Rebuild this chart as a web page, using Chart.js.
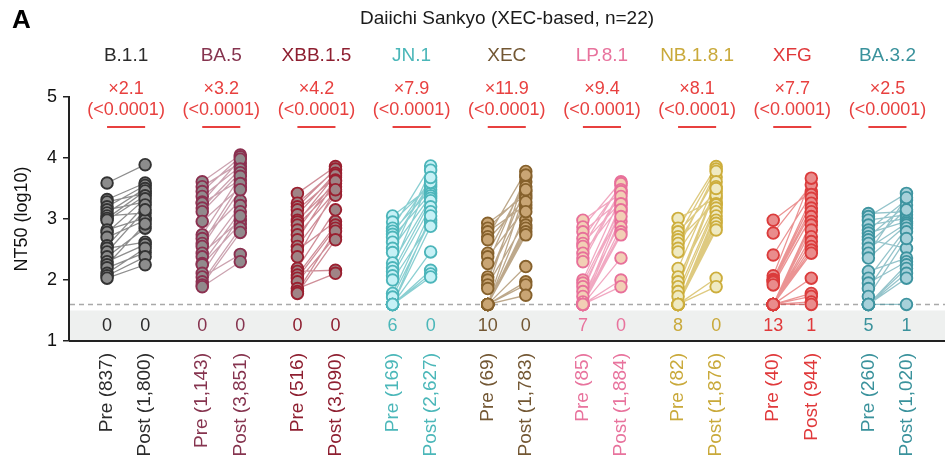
<!DOCTYPE html>
<html lang="en">
<head>
<meta charset="UTF-8">
<title>Daiichi Sankyo NT50</title>
<script src="https://cdn.jsdelivr.net/npm/chart.js"></script>
<style>
  body { margin: 0; background: #fff; }
  #wrap { width: 945px; height: 469px; position: relative; }
</style>
</head>
<body>
<div id="wrap"><canvas id="nt50Chart"></canvas></div>
<script>
  // Variants and annotations
  const variants = ['B.1.1', 'BA.5', 'XBB.1.5', 'JN.1', 'XEC', 'LP.8.1', 'NB.1.8.1', 'XFG', 'BA.3.2'];
  const foldChanges = ['×2.1', '×3.2', '×4.2', '×7.9', '×11.9', '×9.4', '×8.1', '×7.7', '×2.5'];
  const pLabels = ['(<0.0001)', '(<0.0001)', '(<0.0001)', '(<0.0001)', '(<0.0001)', '(<0.0001)', '(<0.0001)', '(<0.0001)', '(<0.0001)'];
  const preGMT = ['837', '1,143', '516', '169', '69', '85', '82', '40', '260'];
  const postGMT = ['1,800', '3,851', '3,090', '2,627', '1,783', '1,884', '1,876', '944', '1,020'];
  const belowPre = [0, 0, 0, 6, 10, 7, 8, 13, 5];
  const belowPost = [0, 0, 0, 0, 0, 0, 0, 1, 1];
  const yTicks = [1, 2, 3, 4, 5];
  const detectionLimit = 1.6; // log10(40)

  // log10 NT50 per donor, pre[k] is paired with post[k]
  const preB111  = [3.59, 3.32, 3.28, 3.20, 3.15, 3.10, 3.05, 3.01, 2.98, 2.82, 2.78, 2.70, 2.56, 2.52, 2.46, 2.38, 2.30, 2.25, 2.20, 2.11, 2.07, 2.03];
  const postB111 = [3.89, 3.59, 3.42, 3.55, 3.28, 3.50, 3.10, 3.46, 3.38, 3.02, 3.33, 2.98, 3.23, 2.62, 3.15, 2.85, 2.58, 2.92, 2.45, 2.52, 2.38, 2.25];
  const preBA5   = [3.61, 3.53, 3.45, 3.37, 3.28, 3.26, 3.18, 3.12, 2.96, 2.74, 2.68, 2.60, 2.55, 2.44, 2.38, 2.27, 2.25, 2.11, 2.05, 1.97, 1.92, 1.89];
  const postBA5  = [4.05, 3.92, 4.02, 3.86, 3.98, 3.64, 3.82, 3.76, 3.52, 3.70, 3.30, 3.58, 3.48, 2.98, 3.22, 3.12, 2.92, 3.05, 2.42, 2.85, 2.78, 2.30];
  const preXBB15 = [3.42, 3.26, 3.20, 3.15, 3.07, 2.98, 2.95, 2.90, 2.82, 2.74, 2.66, 2.55, 2.49, 2.38, 2.19, 2.14, 2.08, 2.03, 1.97, 1.86, 1.81, 1.78];
  const postXBB15 = [3.86, 3.80, 3.82, 3.69, 3.75, 3.58, 3.72, 3.53, 3.64, 3.45, 3.62, 3.39, 2.96, 3.48, 3.15, 2.16, 2.90, 2.85, 2.71, 2.11, 2.80, 2.66];
  const preJN1   = [3.05, 2.95, 2.85, 2.80, 2.75, 2.70, 2.62, 2.52, 2.45, 2.28, 2.20, 2.14, 2.07, 2.00, 1.78, 1.72, 1.6, 1.6, 1.6, 1.6, 1.6, 1.6];
  const postJN1  = [3.53, 3.56, 3.87, 3.48, 3.64, 3.42, 3.60, 3.38, 3.80, 3.34, 3.68, 3.30, 3.20, 2.94, 3.12, 2.98, 3.05, 2.88, 2.46, 2.16, 2.10, 2.05];
  const preXEC   = [2.93, 2.85, 2.79, 2.71, 2.66, 2.44, 2.38, 2.27, 2.05, 2.00, 1.92, 1.86, 1.6, 1.6, 1.6, 1.6, 1.6, 1.6, 1.6, 1.6, 1.6, 1.6];
  const postXEC  = [3.39, 3.45, 3.23, 3.78, 3.34, 3.61, 3.18, 3.69, 3.28, 3.53, 2.98, 3.72, 3.48, 3.12, 2.90, 2.85, 2.79, 2.74, 2.22, 1.97, 1.92, 1.75];
  const preLP81  = [2.98, 2.87, 2.79, 2.68, 2.60, 2.55, 2.44, 2.36, 2.30, 2.00, 1.95, 1.89, 1.81, 1.73, 1.64, 1.6, 1.6, 1.6, 1.6, 1.6, 1.6, 1.6];
  const postLP81 = [3.42, 3.61, 3.31, 3.55, 3.28, 3.58, 3.23, 3.48, 3.45, 3.37, 3.18, 3.12, 3.25, 2.96, 3.15, 3.04, 2.87, 2.79, 2.74, 2.36, 2.00, 1.89];
  const preNB181 = [3.01, 2.85, 2.79, 2.71, 2.66, 2.60, 2.52, 2.46, 2.19, 2.05, 1.97, 1.89, 1.81, 1.73, 1.6, 1.6, 1.6, 1.6, 1.6, 1.6, 1.6, 1.6];
  const postNB181 = [3.34, 3.86, 3.45, 3.82, 3.28, 3.69, 3.78, 3.39, 3.61, 3.25, 3.53, 3.50, 3.23, 3.18, 3.12, 3.05, 2.98, 2.93, 2.87, 2.82, 2.03, 1.89];
  const preXFG   = [2.98, 2.77, 2.41, 2.07, 2.01, 2.00, 1.98, 1.96, 1.92, 1.6, 1.6, 1.6, 1.6, 1.6, 1.6, 1.6, 1.6, 1.6, 1.6, 1.6, 1.6, 1.6];
  const postXFG  = [3.45, 3.56, 3.40, 3.67, 3.34, 3.26, 3.18, 3.12, 3.04, 2.96, 2.90, 2.82, 2.71, 2.63, 2.55, 2.49, 2.44, 2.03, 1.78, 1.73, 1.64, 1.6];
  const preBA32  = [3.09, 3.04, 2.98, 2.90, 2.82, 2.77, 2.71, 2.66, 2.60, 2.52, 2.44, 2.36, 2.14, 2.03, 1.95, 1.86, 1.73, 1.6, 1.6, 1.6, 1.6, 1.6];
  const postBA32 = [3.12, 3.42, 3.07, 3.01, 3.31, 2.96, 3.23, 2.52, 3.15, 2.93, 3.35, 2.90, 2.36, 2.85, 2.30, 2.79, 2.68, 2.25, 2.19, 2.11, 2.03, 1.6];

  const preSeries = [preB111, preBA5, preXBB15, preJN1, preXEC, preLP81, preNB181, preXFG, preBA32];
  const postSeries = [postB111, postBA5, postXBB15, postJN1, postXEC, postLP81, postNB181, postXFG, postBA32];

  // Colours per variant
  const textColors = ['#2b2b2b', '#86344f', '#8e1f30', '#4bb7b9', '#735733', '#e8739d', '#c9a93a', '#e0393b', '#3a929c'];
  const fillColors = ['#8c8c8c', '#918a8c', '#a08486', '#c6f1f6', '#c9a574', '#f2cfb5', '#efeac2', '#e98c8c', '#a7d1da'];
  const edgeColors = ['#333333', '#8b3050', '#9a2030', '#4cb5ba', '#86612c', '#e8709a', '#cdae3c', '#db3c3c', '#3e94a0'];
  const lineColors = ['rgba(50,50,50,0.55)', 'rgba(140,50,80,0.45)', 'rgba(160,30,50,0.5)', 'rgba(76,181,186,0.65)',
                      'rgba(134,97,44,0.55)', 'rgba(232,112,154,0.6)', 'rgba(205,174,60,0.65)', 'rgba(219,60,60,0.55)', 'rgba(62,148,160,0.55)'];

  const FONT = "'Liberation Sans', Arial, Helvetica, sans-serif";

  // pre sits at 2.5*i, post one unit to the right
  function preX(i) { return i * 2.5; }
  function postX(i) { return i * 2.5 + 1; }

  const datasets = variants.map((name, i) => {
    const pts = [];
    preSeries[i].forEach((v, k) => {
      pts.push({x: preX(i), y: v});
      pts.push({x: postX(i), y: postSeries[i][k]});
      pts.push({x: postX(i), y: null}); // break the line between donors
    });
    return {
      label: name,
      data: pts,
      showLine: true,
      spanGaps: false,
      borderColor: lineColors[i],
      borderWidth: 1.3,
      pointRadius: 5.8,
      pointHoverRadius: 5.8,
      pointBackgroundColor: fillColors[i],
      pointBorderColor: edgeColors[i],
      pointBorderWidth: 1.9
    };
  });

  const overlayPlugin = {
    id: 'overlay',
    beforeDatasetsDraw(chart) {
      const {ctx, chartArea, scales: {x, y}} = chart;
      const right = chart.width;
      ctx.save();
      // grey band below the detection limit
      const yTop = y.getPixelForValue(1.5);
      const yBot = y.getPixelForValue(1);
      ctx.fillStyle = '#eef0ef';
      ctx.fillRect(chartArea.left + 1, yTop, right - chartArea.left, yBot - yTop);
      // dashed detection limit
      const yLim = y.getPixelForValue(detectionLimit);
      ctx.setLineDash([5, 4]);
      ctx.strokeStyle = '#a9a9a9';
      ctx.lineWidth = 1.5;
      ctx.beginPath();
      ctx.moveTo(chartArea.left + 1, yLim);
      ctx.lineTo(right, yLim);
      ctx.stroke();
      ctx.setLineDash([]);
      // x axis line, running to the edge of the figure
      ctx.strokeStyle = '#222';
      ctx.lineWidth = 2;
      ctx.beginPath();
      ctx.moveTo(chartArea.left, yBot);
      ctx.lineTo(right, yBot);
      ctx.stroke();
      // counts below the limit
      ctx.font = '18px ' + FONT;
      ctx.textAlign = 'center';
      ctx.textBaseline = 'middle';
      const yCount = y.getPixelForValue(1.25);
      variants.forEach((n, i) => {
        ctx.fillStyle = textColors[i];
        ctx.fillText(String(belowPre[i]), x.getPixelForValue(preX(i)), yCount);
        ctx.fillText(String(belowPost[i]), x.getPixelForValue(postX(i)), yCount);
      });
      ctx.restore();
    },
    afterDraw(chart) {
      const {ctx, chartArea, scales: {x}} = chart;
      ctx.save();
      ctx.textBaseline = 'middle';
      // panel letter
      ctx.fillStyle = '#000';
      ctx.textAlign = 'left';
      ctx.font = 'bold 26px ' + FONT;
      ctx.fillText('A', 12, 21);
      // title
      ctx.textAlign = 'center';
      ctx.font = '19px ' + FONT;
      ctx.fillStyle = '#1a1a1a';
      ctx.fillText('Daiichi Sankyo (XEC-based, n=22)', (chartArea.left + chart.width) / 2, 19);
      variants.forEach((name, i) => {
        const cx = x.getPixelForValue(preX(i) + 0.5);
        ctx.fillStyle = textColors[i];
        ctx.font = '19px ' + FONT;
        ctx.fillText(name, cx, 56);
        ctx.fillStyle = '#e8403f';
        ctx.font = '18px ' + FONT;
        ctx.fillText(foldChanges[i], cx, 89);
        ctx.fillText(pLabels[i], cx, 110);
        ctx.strokeStyle = '#e8403f';
        ctx.lineWidth = 2;
        ctx.beginPath();
        ctx.moveTo(x.getPixelForValue(preX(i)), 127);
        ctx.lineTo(x.getPixelForValue(postX(i)), 127);
        ctx.stroke();
      });
      ctx.restore();
    }
  };

  new Chart(document.getElementById('nt50Chart'), {
    type: 'scatter',
    data: { datasets: datasets },
    options: {
      responsive: true,
      maintainAspectRatio: false,
      animation: false,
      layout: { padding: { top: 97, left: 0, right: 0, bottom: 0 } },
      plugins: { legend: { display: false }, tooltip: { enabled: false } },
      scales: {
        x: {
          type: 'linear',
          min: -1,
          max: 21.81,
          afterBuildTicks: (scale) => {
            const t = [];
            variants.forEach((n, i) => { t.push({value: preX(i)}); t.push({value: postX(i)}); });
            scale.ticks = t;
          },
          afterFit: (scale) => { scale.height = 128; },
          ticks: {
            autoSkip: false,
            minRotation: 90,
            maxRotation: 90,
            padding: 4,
            font: { family: FONT, size: 19 },
            color: (ctx) => textColors[Math.floor(ctx.index / 2)],
            callback: (value, index) => {
              const i = Math.floor(index / 2);
              return index % 2 === 0 ? 'Pre (' + preGMT[i] + ')' : 'Post (' + postGMT[i] + ')';
            }
          },
          grid: { display: false },
          border: { display: false }
        },
        y: {
          min: 1,
          max: 5,
          afterBuildTicks: (scale) => { scale.ticks = yTicks.map(v => ({value: v})); },
          afterFit: (scale) => { scale.width = 69; },
          ticks: { font: { family: FONT, size: 18 }, color: '#111', padding: 6 },
          grid: { drawOnChartArea: false, drawTicks: true, tickLength: 6, color: '#222', lineWidth: 1.5 },
          border: { display: true, color: '#222', width: 2 },
          title: { display: true, text: 'NT50 (log10)', font: { family: FONT, size: 18 }, color: '#111', padding: { top: 11, bottom: 0 } }
        }
      }
    },
    plugins: [overlayPlugin]
  });
</script>
</body>
</html>
